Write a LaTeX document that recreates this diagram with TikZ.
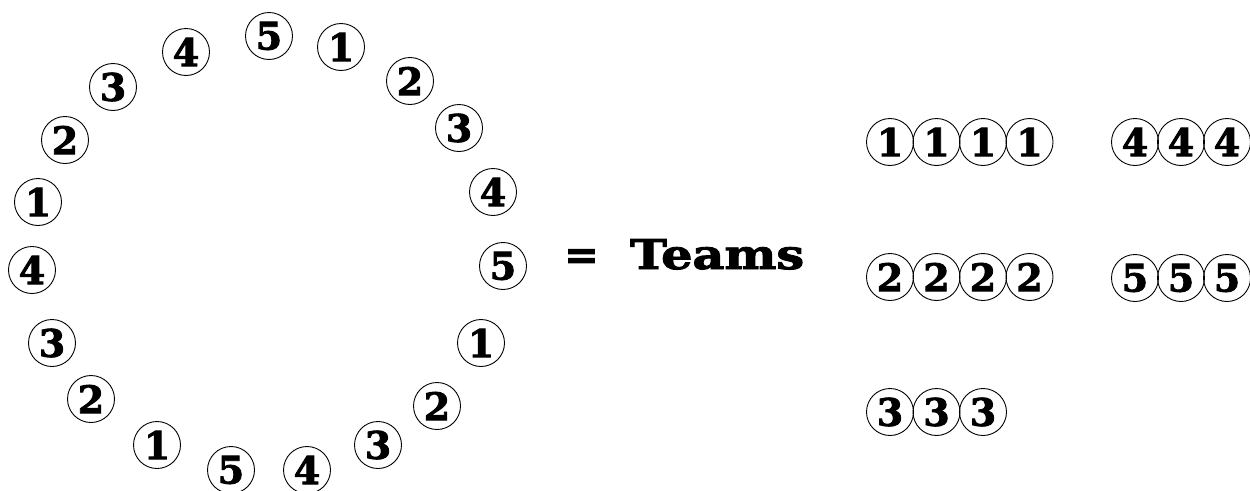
\documentclass[tikz,border=0pt]{standalone}
\usepackage{fontspec}
\newfontfamily\heavyserif{DejaVu Serif Bold}[FakeBold=2.2]
\begin{document}
\begin{tikzpicture}[x=1pt,y=-1pt,
  ball/.style={draw, circle, line width=0.9pt, minimum size=47pt, inner sep=0pt,
    font=\heavyserif\fontsize{38}{38}\selectfont},
  label text/.style={inner sep=0pt, font=\heavyserif\fontsize{41}{41}\selectfont}]
\useasboundingbox (0,0) rectangle (1250,490);
% ring of players
\node[ball] (r1)  at (269,36)  {5};
\node[ball] (r2)  at (341,47)  {1};
\node[ball] (r3)  at (410,81)  {2};
\node[ball] (r4)  at (459,128) {3};
\node[ball] (r5)  at (493,192) {4};
\node[ball] (r6)  at (503,266) {5};
\node[ball] (r7)  at (481,343) {1};
\node[ball] (r8)  at (437,406) {2};
\node[ball] (r9)  at (378,445) {3};
\node[ball] (r10) at (307,470) {4};
\node[ball] (r11) at (231,470) {5};
\node[ball] (r12) at (157,445) {1};
\node[ball] (r13) at (91,399)  {2};
\node[ball] (r14) at (52,343)  {3};
\node[ball] (r15) at (32,270)  {4};
\node[ball] (r16) at (38,202)  {1};
\node[ball] (r17) at (65,140)  {2};
\node[ball] (r18) at (113,87)  {3};
\node[ball] (r19) at (186,52)  {4};
% equals sign and label
\node[label text, anchor=base] (eq) at (581.5,269) {=};
\node[label text, anchor=base west] (teams) at (630,269) {\scalebox{1.2}[1]{Teams}};
% teams
\foreach \i/\x in {1/890,2/936.5,3/983,4/1029.5}{
  \node[ball] (one\i) at (\x,142) {1};
  \node[ball] (two\i) at (\x,277) {2};
}
\foreach \i/\x in {1/890,2/936.5,3/983}{
  \node[ball] (three\i) at (\x,412) {3};
}
\foreach \i/\x in {1/1135,2/1181,3/1227}{
  \node[ball] (four\i) at (\x,142) {4};
  \node[ball] (five\i) at (\x,278) {5};
}
\end{tikzpicture}
\end{document}
